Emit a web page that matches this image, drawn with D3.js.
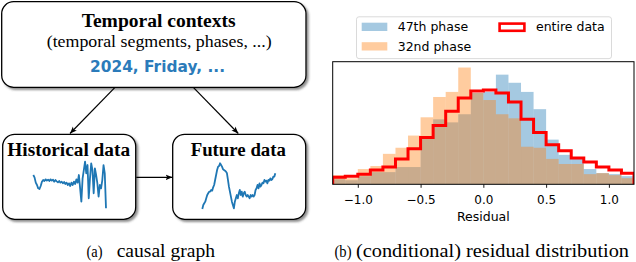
<!DOCTYPE html>
<html>
<head>
<meta charset="utf-8">
<script src="https://cdn.jsdelivr.net/npm/d3@7"></script>
<style>
body { margin: 0; background: #fff; }
</style>
</head>
<body>
<svg id="fig" width="636" height="262"></svg>
<script>

// Data

var binStart = -1.2;
var binWidth = 0.1;

var phase47 = [0.05, 0.04, 0.08, 0.12, 0.12, 0.17, 0.17, 0.45, 0.64, 0.61, 0.69, 0.90,
	0.91, 1.08, 1.00, 0.91, 0.74, 0.44, 0.29, 0.25, 0.15, 0.11, 0.10, 0.08];

var phase32 = [0.09, 0.06, 0.15, 0.18, 0.30, 0.36, 0.48, 0.66, 0.86, 0.91, 1.15, 0.90,
	0.83, 0.69, 0.65, 0.37, 0.36, 0.25, 0.20, 0.20, 0.10, 0.11, 0.09, 0.06];

var entireData = [0.07, 0.08, 0.10, 0.14, 0.17, 0.25, 0.35, 0.46, 0.58, 0.72, 0.85, 0.92,
	0.93, 0.90, 0.81, 0.64, 0.51, 0.39, 0.33, 0.26, 0.22, 0.17, 0.14, 0.11];

var xTicks = [-1.0, -0.5, 0.0, 0.5, 1.0];
var xTickLabels = ["\u22121.0", "\u22120.5", "0.0", "0.5", "1.0"];

var legendLabels = ["47th phase", "32nd phase", "entire data"];

// sparklines in the causal graph
var historical = [105, 98, 82, 75, 65, 63, 72, 85, 90, 87, 92, 88, 91, 87, 92, 88, 91, 85, 90, 86,
	83, 87, 82, 85, 80, 84, 78, 82, 75, 80, 72, 82, 75, 85, 78, 92, 82, 105, 65, 25,
	95, 120, 145, 110, 135, 35, 95, 140, 120, 50, 125, 105, 80, 40, 75, 65, 90, 135, 110, 5];

var future = [3, 15, 20, 25, 35, 45, 50, 55, 55, 60, 58, 68, 75, 90, 105, 120, 130, 132, 140, 135,
	130, 122, 120, 118, 115, 110, 90, 70, 55, 40, 25, 15, 5, 25, 35, 45, 35, 50, 60, 45,
	55, 40, 50, 55, 45, 40, 45, 40, 35, 45, 40, 45, 40, 45, 60, 65, 75, 65, 80, 70,
	75, 82, 80, 90, 85, 88, 80, 90, 88, 95, 90, 92, 100, 100, 110];

var svg = d3.select("#fig");
var serif = "'Liberation Serif', 'DejaVu Serif', serif";
var sans = "'DejaVu Sans', sans-serif";

// Defs

var defs = svg.append("defs");

defs.append("filter")
	.attr("id", "shadow")
	.attr("x", "-10%").attr("y", "-10%")
	.attr("width", "130%").attr("height", "130%")
	.append("feDropShadow")
	.attr("dx", 2).attr("dy", 2)
	.attr("stdDeviation", 1)
	.attr("flood-color", "#444")
	.attr("flood-opacity", 0.6);

defs.append("marker")
	.attr("id", "arrow")
	.attr("viewBox", "0 0 10 10")
	.attr("refX", 10).attr("refY", 5)
	.attr("markerWidth", 7).attr("markerHeight", 7)
	.attr("markerUnits", "userSpaceOnUse")
	.attr("orient", "auto")
	.append("path")
	.attr("d", "M0,1L10,5L0,9L2.5,5z")
	.attr("fill", "#000");

// (a) causal graph

var boxes = [
	{x: 1.7, y: 1.7, w: 304.3, h: 85.6},
	{x: 2.7, y: 134.3, w: 133, h: 85},
	{x: 172.7, y: 134.3, w: 133, h: 85}
];

svg.selectAll("rect.box")
	.data(boxes)
	.enter().append("rect")
	.attr("class", "box")
	.attr("x", function(d) { return d.x; })
	.attr("y", function(d) { return d.y; })
	.attr("width", function(d) { return d.w; })
	.attr("height", function(d) { return d.h; })
	.attr("rx", 12)
	.attr("fill", "#fff")
	.attr("stroke", "#000")
	.attr("stroke-width", 1.3)
	.attr("filter", "url(#shadow)");

var arrows = [
	[115, 87.3, 70, 133.5],
	[193.3, 87.3, 238.3, 133.5],
	[136.3, 177.3, 172.5, 177.3]
];

svg.selectAll("line.arrow")
	.data(arrows)
	.enter().append("line")
	.attr("class", "arrow")
	.attr("x1", function(d) { return d[0]; })
	.attr("y1", function(d) { return d[1]; })
	.attr("x2", function(d) { return d[2]; })
	.attr("y2", function(d) { return d[3]; })
	.attr("stroke", "#000")
	.attr("stroke-width", 1.2)
	.attr("marker-end", "url(#arrow)");

function boxText(txt, x, y, size, weight, len, family, color) {
	svg.append("text")
		.attr("x", x).attr("y", y)
		.attr("text-anchor", "middle")
		.attr("font-family", family)
		.attr("font-size", size)
		.attr("font-weight", weight)
		.attr("textLength", len)
		.attr("lengthAdjust", "spacingAndGlyphs")
		.attr("fill", color)
		.text(txt);
}

boxText("Temporal contexts", 158.7, 27.3, 18.5, "bold", 154, serif, "#000");
boxText("(temporal segments, phases, ...)", 159.2, 47.3, 17.5, "normal", 225, serif, "#000");
boxText("2024, Friday, ...", 157.5, 71.7, 15, "bold", 135, sans, "#2b7bba");
boxText("Historical data", 68.7, 155.7, 18.5, "bold", 122.7, serif, "#000");
boxText("Future data", 238.3, 155.7, 18.5, "bold", 95.3, serif, "#000");

var xHist = d3.scaleLinear().domain([0, historical.length - 1]).range([33.3, 106]);
var yHist = d3.scaleLinear().domain([5, 145]).range([208.3, 161.7]);
var xFut = d3.scaleLinear().domain([0, future.length - 1]).range([202.3, 275.3]);
var yFut = d3.scaleLinear().domain([3, 140]).range([209, 163.3]);

svg.append("path")
	.datum(historical)
	.attr("d", d3.line()
		.x(function(d, i) { return xHist(i); })
		.y(function(d) { return yHist(d); }))
	.attr("fill", "none")
	.attr("stroke", "#1f77b4")
	.attr("stroke-width", 1.8)
	.attr("stroke-linejoin", "round");

svg.append("path")
	.datum(future)
	.attr("d", d3.line()
		.x(function(d, i) { return xFut(i); })
		.y(function(d) { return yFut(d); }))
	.attr("fill", "none")
	.attr("stroke", "#1f77b4")
	.attr("stroke-width", 1.8)
	.attr("stroke-linejoin", "round");

// (b) residual distribution

var plot = {left: 332.7, right: 634, top: 61.7, bottom: 184.3};

var x = d3.scaleLinear()
	.domain([binStart, binStart + binWidth * phase47.length])
	.range([plot.left, plot.right]);

var yMax = d3.max(phase47.concat(phase32, entireData)) * 1.05;
var y = d3.scaleLinear()
	.domain([0, yMax])
	.range([plot.bottom, plot.top]);

defs.append("clipPath")
	.attr("id", "plotClip")
	.append("rect")
	.attr("x", plot.left).attr("y", plot.top)
	.attr("width", plot.right - plot.left)
	.attr("height", plot.bottom - plot.top);

var hist = svg.append("g").attr("clip-path", "url(#plotClip)");

function drawBars(values, color) {
	hist.append("g")
		.selectAll("rect")
		.data(values)
		.enter().append("rect")
		.attr("x", function(d, i) { return x(binStart + i * binWidth); })
		.attr("width", function(d, i) { return x(binStart + (i + 1) * binWidth) - x(binStart + i * binWidth); })
		.attr("y", function(d) { return y(d); })
		.attr("height", function(d) { return y(0) - y(d); })
		.attr("fill", color)
		.attr("fill-opacity", 0.4);
}

drawBars(phase47, "#1f77b4");
drawBars(phase32, "#ff7f0e");

var stepPoints = [[binStart, 0]];
entireData.forEach(function(d, i) {
	stepPoints.push([binStart + i * binWidth, d]);
	stepPoints.push([binStart + (i + 1) * binWidth, d]);
});
stepPoints.push([binStart + entireData.length * binWidth, 0]);

hist.append("path")
	.datum(stepPoints)
	.attr("d", d3.line()
		.x(function(d) { return x(d[0]); })
		.y(function(d) { return y(d[1]); }))
	.attr("fill", "none")
	.attr("stroke", "#ff0000")
	.attr("stroke-width", 3)
	.attr("stroke-linejoin", "miter");

var xAxis = svg.append("g")
	.attr("transform", "translate(0," + plot.bottom + ")")
	.call(d3.axisBottom(x)
		.tickValues(xTicks)
		.tickFormat(function(d, i) { return xTickLabels[i]; })
		.tickSize(3.5)
		.tickPadding(8)
		.tickSizeOuter(0));

xAxis.select(".domain").remove();
xAxis.selectAll("line").attr("stroke", "#000").attr("stroke-width", 0.9);
xAxis.selectAll("text")
	.attr("font-family", sans)
	.attr("font-size", 12)
	.attr("fill", "#000");

svg.append("rect")
	.attr("x", plot.left).attr("y", plot.top)
	.attr("width", plot.right - plot.left)
	.attr("height", plot.bottom - plot.top)
	.attr("fill", "none")
	.attr("stroke", "#000")
	.attr("stroke-width", 1);

svg.append("text")
	.attr("x", (plot.left + plot.right) / 2)
	.attr("y", 220.7)
	.attr("text-anchor", "middle")
	.attr("font-family", sans)
	.attr("font-size", 12.5)
	.text("Residual");

// Legend

var legend = svg.append("g").attr("font-family", sans).attr("font-size", 12.5);

legend.append("rect")
	.attr("x", 356.5).attr("y", 16.8)
	.attr("width", 255).attr("height", 41.8)
	.attr("rx", 2.5)
	.attr("fill", "#fff")
	.attr("fill-opacity", 0.8)
	.attr("stroke", "#d6d6d6")
	.attr("stroke-width", 0.9);

legend.append("rect")
	.attr("x", 361.7).attr("y", 22.7)
	.attr("width", 25.6).attr("height", 8.3)
	.attr("fill", "#1f77b4").attr("fill-opacity", 0.4);

legend.append("rect")
	.attr("x", 361.7).attr("y", 42.2)
	.attr("width", 25.6).attr("height", 8.3)
	.attr("fill", "#ff7f0e").attr("fill-opacity", 0.4);

legend.append("rect")
	.attr("x", 499.6).attr("y", 23.6)
	.attr("width", 24.8).attr("height", 7.2)
	.attr("fill", "none")
	.attr("stroke", "#ff0000")
	.attr("stroke-width", 2.6);

legend.append("text").attr("x", 397.7).attr("y", 30.9).text(legendLabels[0]);
legend.append("text").attr("x", 397.7).attr("y", 50.6).text(legendLabels[1]);
legend.append("text").attr("x", 536).attr("y", 30.9).text(legendLabels[2]);

// Captions

function caption(txt, x, y, size, len) {
	svg.append("text")
		.attr("x", x).attr("y", y)
		.attr("font-family", serif)
		.attr("font-size", size)
		.attr("textLength", len)
		.attr("lengthAdjust", "spacingAndGlyphs")
		.text(txt);
}

caption("(a)", 86.5, 256.5, 17, 16);
caption("causal graph", 116.7, 256.5, 19, 98.3);
caption("(b)", 334.5, 256.5, 17, 17);
caption("(conditional) residual distribution", 356, 256.5, 19, 273);

</script>
</body>
</html>
